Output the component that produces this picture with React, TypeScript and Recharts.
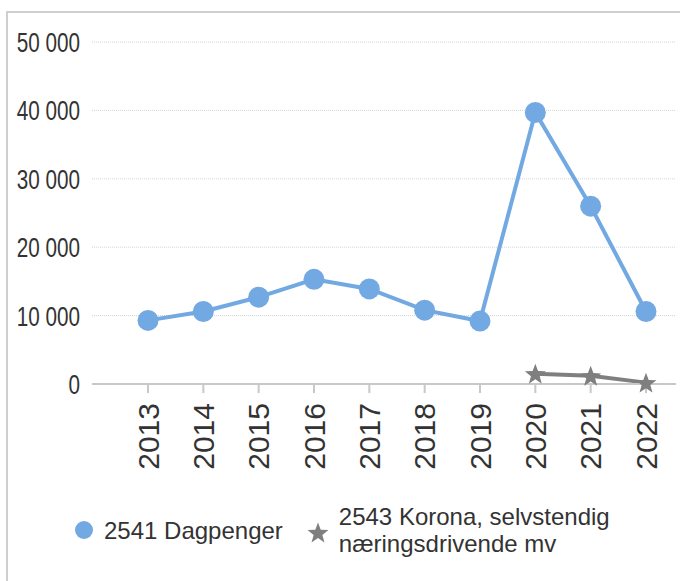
import React from "react";
import { LineChart, Line, XAxis, YAxis, CartesianGrid, Legend } from "recharts";

const years = ["2013", "2014", "2015", "2016", "2017", "2018", "2019", "2020", "2021", "2022"];
const dagpenger = [9300, 10600, 12700, 15300, 13900, 10800, 9200, 39700, 26000, 10600];
const korona: (number | null)[] = [null, null, null, null, null, null, null, 1500, 1200, 200];
const yTicks = [0, 10000, 20000, 30000, 40000, 50000];
const seriesNames = ["2541 Dagpenger", "2543 Korona, selvstendig næringsdrivende mv"];
const legendLines = [["2541 Dagpenger"], ["2543 Korona, selvstendig", "næringsdrivende mv"]];

const data = years.map((y, i) => ({ year: y, dag: dagpenger[i], kor: korona[i] }));

const BLUE = "#72a9e2";
const GRAY = "#7f7f7f";
const TEXT = "#333333";
const FONT = "'Liberation Sans', Arial, sans-serif";

const fmt = (v: number) => String(v).replace(/\B(?=(\d{3})+(?!\d))/g, " ");

const starPoints = (cx: number, cy: number, R: number, r: number) => {
  const pts: string[] = [];
  for (let i = 0; i < 10; i++) {
    const rad = i % 2 === 0 ? R : r;
    const a = -Math.PI / 2 + (i * Math.PI) / 5;
    pts.push(`${cx + rad * Math.cos(a)},${cy + rad * Math.sin(a)}`);
  }
  return pts.join(" ");
};

const StarDot = (props: any) => {
  const { cx, cy, value } = props;
  if (value == null || cx == null || cy == null) return null;
  return <polygon key={`s-${cx}`} points={starPoints(cx, cy + 1, 11, 4.6)} fill={GRAY} />;
};

const XTick = (props: any) => {
  const { x, y, payload } = props;
  return (
    <text
      x={x}
      y={y}
      transform={`rotate(-90, ${x}, ${y})`}
      textAnchor="end"
      dy="0.36em"
      fill={TEXT}
      fontSize={30}
      fontFamily={FONT}
    >
      {payload.value}
    </text>
  );
};

const YTick = (props: any) => {
  const { x, y, payload } = props;
  return (
    <text
      x={x}
      y={y}
      transform={`translate(${x},0) scale(0.74,1) translate(${-x},0)`}
      textAnchor="end"
      dy="0.36em"
      fill={TEXT}
      fontSize={28}
      fontFamily={FONT}
    >
      {fmt(payload.value)}
    </text>
  );
};

const LegendContent = () => (
  <div style={{ display: "flex", alignItems: "center", fontFamily: FONT, fontSize: 24, color: TEXT, lineHeight: "27px" }}>
    <svg width={20} height={20} style={{ marginRight: 10 }}>
      <circle cx={10} cy={10} r={9} fill={BLUE} />
    </svg>
    <div style={{ marginRight: 24 }}>{legendLines[0].map((l) => <div key={l}>{l}</div>)}</div>
    <svg width={22} height={22} style={{ marginRight: 10, marginTop: 6 }}>
      <polygon points={starPoints(11, 11.5, 11, 4.6)} fill={GRAY} />
    </svg>
    <div>{legendLines[1].map((l) => <div key={l}>{l}</div>)}</div>
  </div>
);

export default function App() {
  return (
    <div style={{ position: "absolute", left: 0, top: 0, width: 680, height: 581, background: "#fff" }}>
      <div
        style={{
          position: "absolute",
          left: 6,
          top: 11,
          right: 0,
          bottom: 0,
          borderTop: "2px solid #cfcfcf",
          borderLeft: "2px solid #cfcfcf",
        }}
      />
      <LineChart
        width={680}
        height={581}
        data={data}
        margin={{ top: 42, right: 4, left: 12, bottom: 107 }}
        style={{ position: "absolute", left: 0, top: 0 }}
      >
        <CartesianGrid vertical={false} stroke="#d4d4d4" strokeDasharray="1 1" />
        <XAxis
          dataKey="year"
          scale="point"
          padding={{ left: 56, right: 30 }}
          height={90}
          stroke="#c8c8c8"
          strokeWidth={2}
          tickSize={9}
          tickMargin={10}
          tickLine={{ stroke: "#c8c8c8", strokeWidth: 2 }}
          tick={<XTick />}
          interval={0}
        />
        <YAxis
          width={80}
          domain={[0, 50000]}
          ticks={yTicks}
          axisLine={false}
          tickLine={false}
          tickMargin={6}
          tick={<YTick />}
          interval={0}
        />
        <Legend
          verticalAlign="middle"
          align="center"
          layout="horizontal"
          wrapperStyle={{ top: 503, left: 74, width: 600 }}
          content={<LegendContent />}
        />
        <Line
          name={seriesNames[0]}
          dataKey="dag"
          stroke={BLUE}
          strokeWidth={4}
          dot={{ r: 10.5, fill: BLUE, stroke: "none" }}
          activeDot={false}
          isAnimationActive={false}
        />
        <Line
          name={seriesNames[1]}
          dataKey="kor"
          stroke={GRAY}
          strokeWidth={4}
          dot={<StarDot />}
          activeDot={false}
          connectNulls={false}
          isAnimationActive={false}
        />
      </LineChart>
    </div>
  );
}
